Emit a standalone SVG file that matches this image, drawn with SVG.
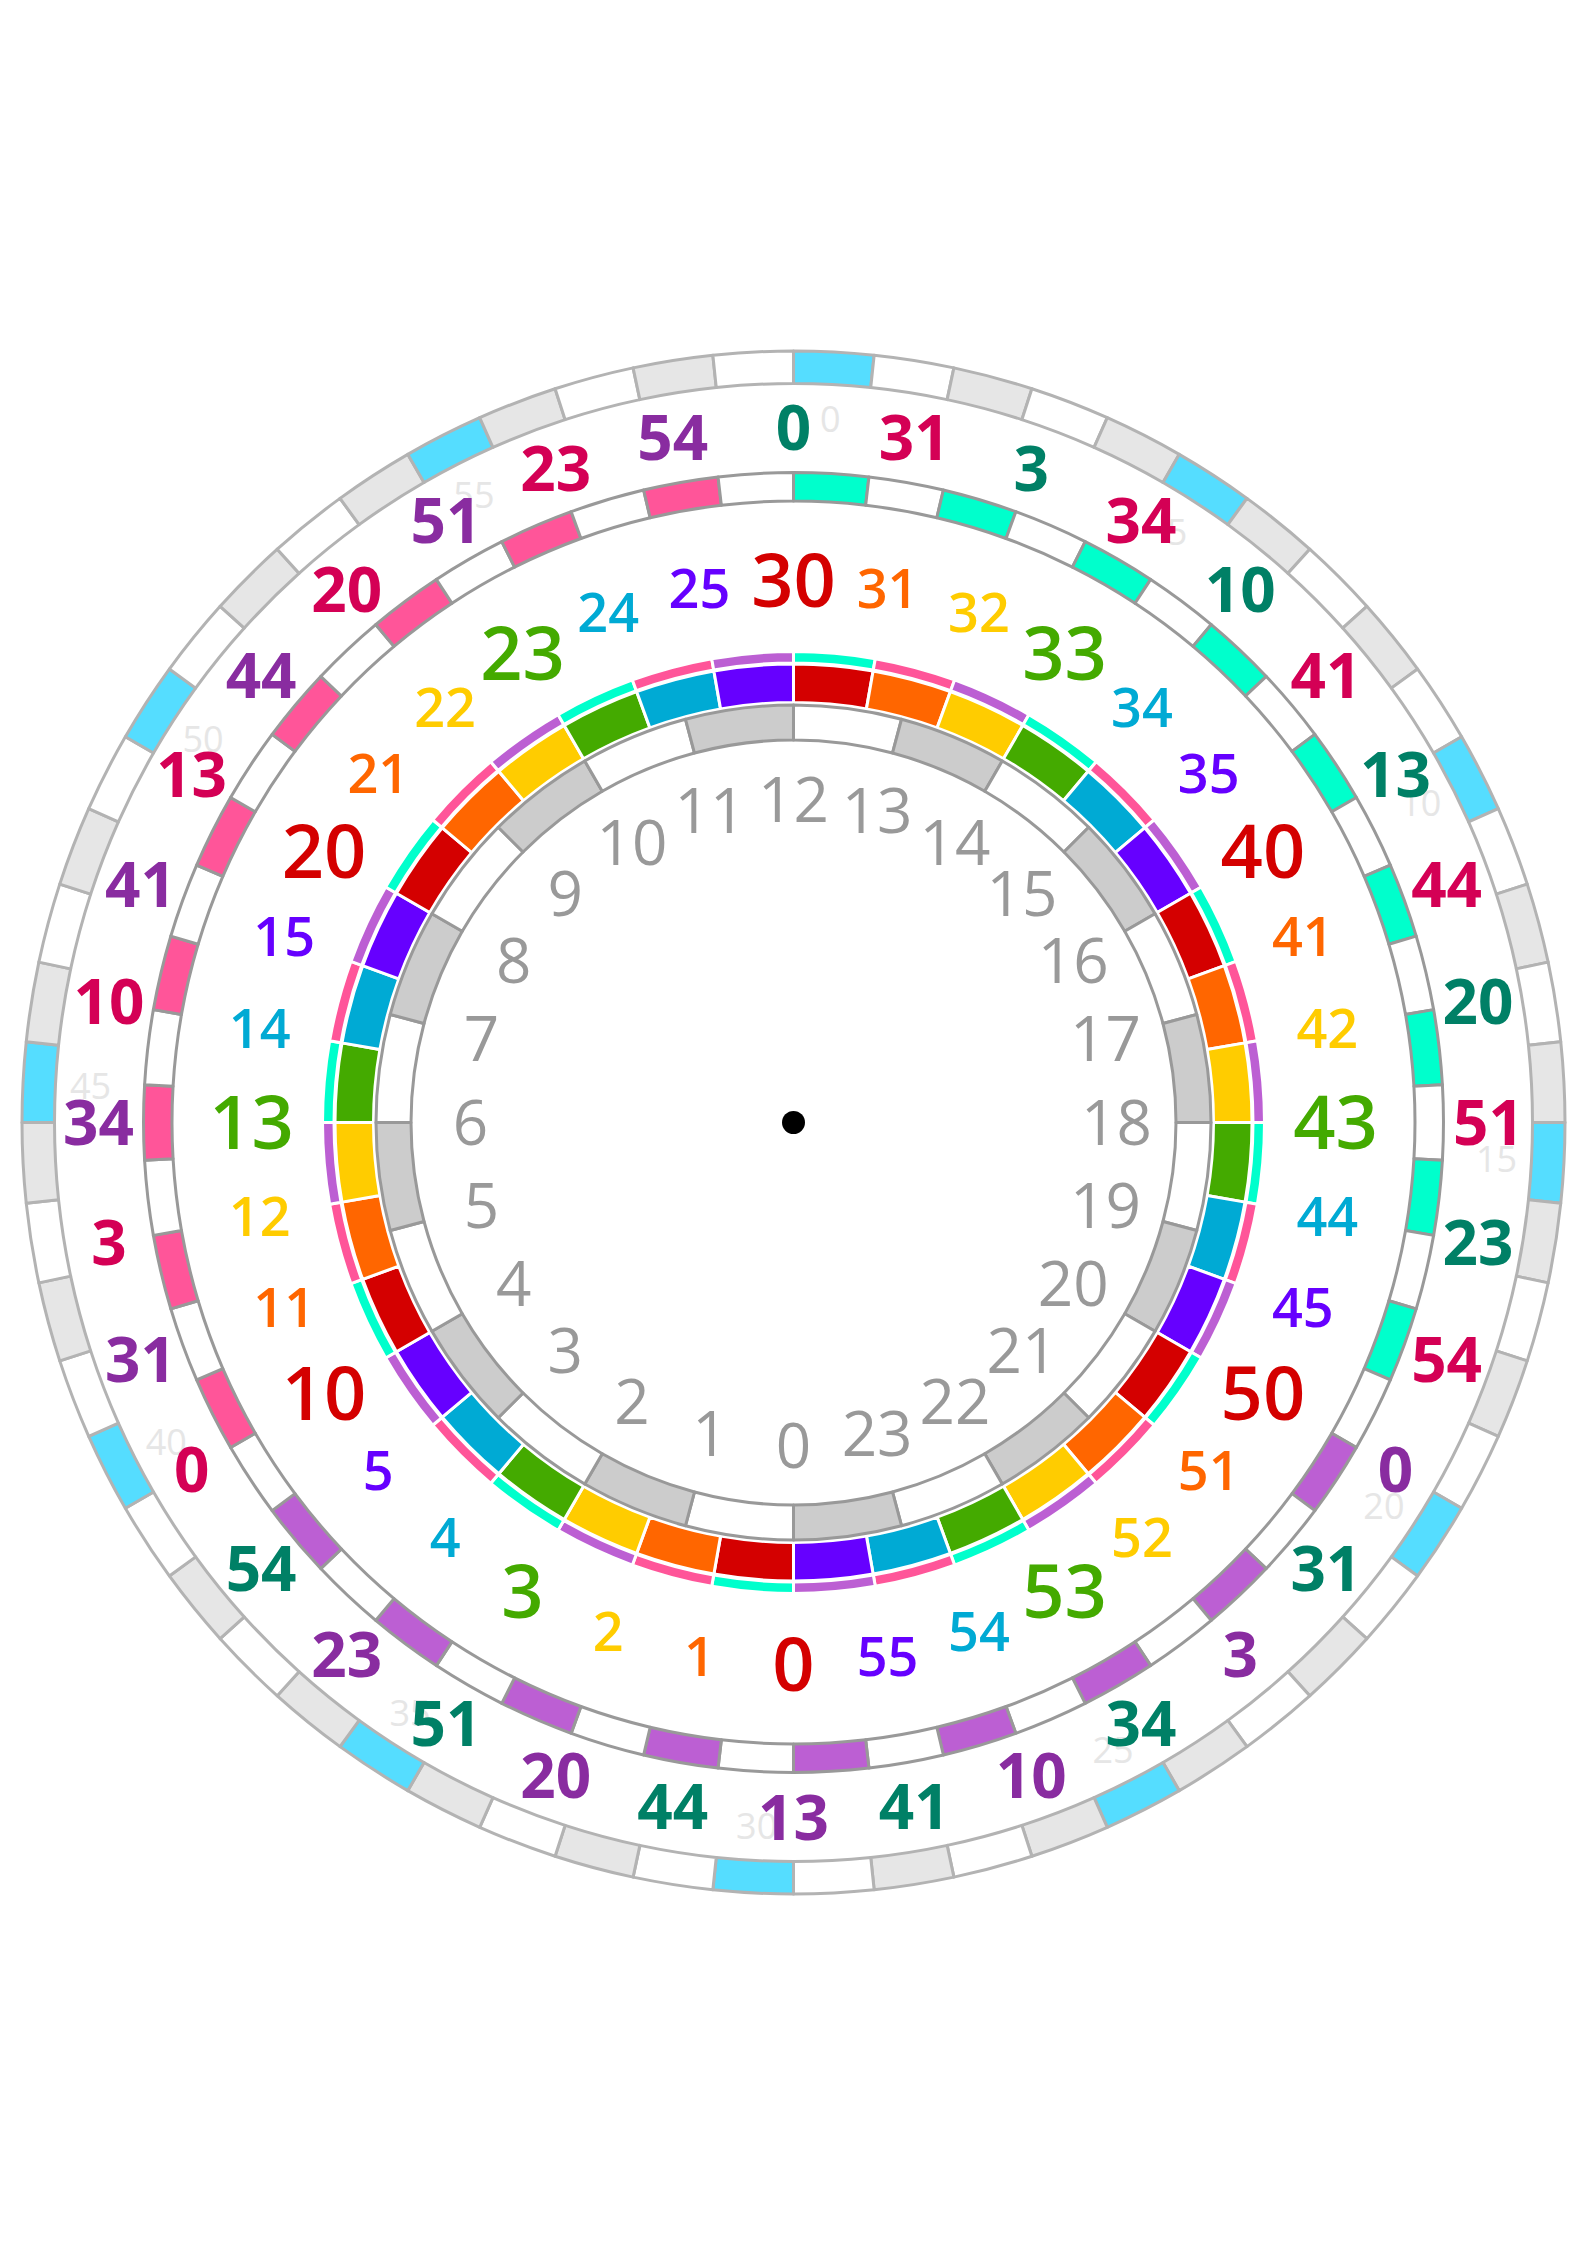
<svg xmlns="http://www.w3.org/2000/svg" width="1587" height="2245" viewBox="0 0 1587 2245">
<style>
.o{stroke:#b3b3b3;stroke-width:3;stroke-linejoin:round}
.m{stroke:#999999;stroke-width:3;stroke-linejoin:round}
.h{stroke:#999999;stroke-width:3;stroke-linejoin:round}
.c{stroke:#ffffff;stroke-width:3;stroke-linejoin:round}
.w{fill:#ffffff}
.lg{fill:#e6e6e6}
.sb{fill:#55ddff}
.gh{fill:#cccccc}
.R{fill:#d40000}.O{fill:#ff6600}.Y{fill:#ffcc00}.G{fill:#44aa00}.B{fill:#00aad4}.V{fill:#6600ff}
.T{fill:#00ffcc}.P{fill:#ff5599}.L{fill:#bc5fd3}
text{font-family:"Open Sans","Noto Sans","DejaVu Sans",sans-serif;text-anchor:middle}
.hl{font-size:62px;fill:#999999}
.gl{font-size:36px;fill:#e6e6e6}
.ml{font-size:54px;font-weight:600}
.mb{font-size:74px;font-weight:600}
.ol{font-size:62px;font-weight:700}
.tg{fill:#008066}.tc{fill:#d40055}.tp{fill:#892ca0}
</style>
<defs>
<path id="so" class="o" d="M0,-771.5 A771.5,771.5 0 0 1 80.643,-767.274 L77.246,-734.952 A739,739 0 0 0 0,-739 Z"/>
<path id="sm" class="m" d="M0,-650 A650,650 0 0 1 75.460,-645.605 L72.152,-617.297 A621.5,621.5 0 0 0 0,-621.5 Z"/>
<path id="sc" class="c" d="M0,-458.5 A458.5,458.5 0 0 1 79.618,-451.534 L72.932,-413.619 A420,420 0 0 0 0,-420 Z"/>
<path id="st" class="c" d="M0,-471 A471,471 0 0 1 81.788,-463.845 L79.791,-452.519 A459.5,459.5 0 0 0 0,-459.5 Z"/>
<path id="sh" class="h" d="M0,-417.5 A417.5,417.5 0 0 1 108.057,-403.274 L98.998,-369.467 A382.5,382.5 0 0 0 0,-382.5 Z"/>
</defs>
<rect width="1587" height="2245" fill="#ffffff"/>
<g transform="translate(793.5 1122.5)">
<g id="outer-minute-ring">
<use href="#so" class="sb" transform="rotate(0)"/><use href="#so" class="w" transform="rotate(6)"/><use href="#so" class="lg" transform="rotate(12)"/><use href="#so" class="w" transform="rotate(18)"/><use href="#so" class="lg" transform="rotate(24)"/>
<use href="#so" class="sb" transform="rotate(30)"/><use href="#so" class="lg" transform="rotate(36)"/><use href="#so" class="w" transform="rotate(42)"/><use href="#so" class="lg" transform="rotate(48)"/><use href="#so" class="w" transform="rotate(54)"/>
<use href="#so" class="sb" transform="rotate(60)"/><use href="#so" class="w" transform="rotate(66)"/><use href="#so" class="lg" transform="rotate(72)"/><use href="#so" class="w" transform="rotate(78)"/><use href="#so" class="lg" transform="rotate(84)"/>
<use href="#so" class="sb" transform="rotate(90)"/><use href="#so" class="lg" transform="rotate(96)"/><use href="#so" class="w" transform="rotate(102)"/><use href="#so" class="lg" transform="rotate(108)"/><use href="#so" class="w" transform="rotate(114)"/>
<use href="#so" class="sb" transform="rotate(120)"/><use href="#so" class="w" transform="rotate(126)"/><use href="#so" class="lg" transform="rotate(132)"/><use href="#so" class="w" transform="rotate(138)"/><use href="#so" class="lg" transform="rotate(144)"/>
<use href="#so" class="sb" transform="rotate(150)"/><use href="#so" class="lg" transform="rotate(156)"/><use href="#so" class="w" transform="rotate(162)"/><use href="#so" class="lg" transform="rotate(168)"/><use href="#so" class="w" transform="rotate(174)"/>
<use href="#so" class="sb" transform="rotate(180)"/><use href="#so" class="w" transform="rotate(186)"/><use href="#so" class="lg" transform="rotate(192)"/><use href="#so" class="w" transform="rotate(198)"/><use href="#so" class="lg" transform="rotate(204)"/>
<use href="#so" class="sb" transform="rotate(210)"/><use href="#so" class="lg" transform="rotate(216)"/><use href="#so" class="w" transform="rotate(222)"/><use href="#so" class="lg" transform="rotate(228)"/><use href="#so" class="w" transform="rotate(234)"/>
<use href="#so" class="sb" transform="rotate(240)"/><use href="#so" class="w" transform="rotate(246)"/><use href="#so" class="lg" transform="rotate(252)"/><use href="#so" class="w" transform="rotate(258)"/><use href="#so" class="lg" transform="rotate(264)"/>
<use href="#so" class="sb" transform="rotate(270)"/><use href="#so" class="lg" transform="rotate(276)"/><use href="#so" class="w" transform="rotate(282)"/><use href="#so" class="lg" transform="rotate(288)"/><use href="#so" class="w" transform="rotate(294)"/>
<use href="#so" class="sb" transform="rotate(300)"/><use href="#so" class="w" transform="rotate(306)"/><use href="#so" class="lg" transform="rotate(312)"/><use href="#so" class="w" transform="rotate(318)"/><use href="#so" class="lg" transform="rotate(324)"/>
<use href="#so" class="sb" transform="rotate(330)"/><use href="#so" class="lg" transform="rotate(336)"/><use href="#so" class="w" transform="rotate(342)"/><use href="#so" class="lg" transform="rotate(348)"/><use href="#so" class="w" transform="rotate(354)"/>
</g>
<g id="middle-ring">
<use href="#sm" class="T" transform="rotate(0)"/><use href="#sm" class="w" transform="rotate(6.6667)"/><use href="#sm" class="T" transform="rotate(13.3333)"/><use href="#sm" class="w" transform="rotate(20)"/><use href="#sm" class="T" transform="rotate(26.6667)"/><use href="#sm" class="w" transform="rotate(33.3333)"/>
<use href="#sm" class="T" transform="rotate(40)"/><use href="#sm" class="w" transform="rotate(46.6667)"/><use href="#sm" class="T" transform="rotate(53.3333)"/><use href="#sm" class="w" transform="rotate(60)"/><use href="#sm" class="T" transform="rotate(66.6667)"/><use href="#sm" class="w" transform="rotate(73.3333)"/>
<use href="#sm" class="T" transform="rotate(80)"/><use href="#sm" class="w" transform="rotate(86.6667)"/><use href="#sm" class="T" transform="rotate(93.3333)"/><use href="#sm" class="w" transform="rotate(100)"/><use href="#sm" class="T" transform="rotate(106.6667)"/><use href="#sm" class="w" transform="rotate(113.3333)"/>
<use href="#sm" class="L" transform="rotate(120)"/><use href="#sm" class="w" transform="rotate(126.6667)"/><use href="#sm" class="L" transform="rotate(133.3333)"/><use href="#sm" class="w" transform="rotate(140)"/><use href="#sm" class="L" transform="rotate(146.6667)"/><use href="#sm" class="w" transform="rotate(153.3333)"/>
<use href="#sm" class="L" transform="rotate(160)"/><use href="#sm" class="w" transform="rotate(166.6667)"/><use href="#sm" class="L" transform="rotate(173.3333)"/><use href="#sm" class="w" transform="rotate(180)"/><use href="#sm" class="L" transform="rotate(186.6667)"/><use href="#sm" class="w" transform="rotate(193.3333)"/>
<use href="#sm" class="L" transform="rotate(200)"/><use href="#sm" class="w" transform="rotate(206.6667)"/><use href="#sm" class="L" transform="rotate(213.3333)"/><use href="#sm" class="w" transform="rotate(220)"/><use href="#sm" class="L" transform="rotate(226.6667)"/><use href="#sm" class="w" transform="rotate(233.3333)"/>
<use href="#sm" class="P" transform="rotate(240)"/><use href="#sm" class="w" transform="rotate(246.6667)"/><use href="#sm" class="P" transform="rotate(253.3333)"/><use href="#sm" class="w" transform="rotate(260)"/><use href="#sm" class="P" transform="rotate(266.6667)"/><use href="#sm" class="w" transform="rotate(273.3333)"/>
<use href="#sm" class="P" transform="rotate(280)"/><use href="#sm" class="w" transform="rotate(286.6667)"/><use href="#sm" class="P" transform="rotate(293.3333)"/><use href="#sm" class="w" transform="rotate(300)"/><use href="#sm" class="P" transform="rotate(306.6667)"/><use href="#sm" class="w" transform="rotate(313.3333)"/>
<use href="#sm" class="P" transform="rotate(320)"/><use href="#sm" class="w" transform="rotate(326.6667)"/><use href="#sm" class="P" transform="rotate(333.3333)"/><use href="#sm" class="w" transform="rotate(340)"/><use href="#sm" class="P" transform="rotate(346.6667)"/><use href="#sm" class="w" transform="rotate(353.3333)"/>
</g>
<g id="color-band">
<use href="#st" class="T" transform="rotate(0)"/><use href="#st" class="P" transform="rotate(10)"/><use href="#st" class="L" transform="rotate(20)"/><use href="#st" class="T" transform="rotate(30)"/><use href="#st" class="P" transform="rotate(40)"/><use href="#st" class="L" transform="rotate(50)"/>
<use href="#st" class="T" transform="rotate(60)"/><use href="#st" class="P" transform="rotate(70)"/><use href="#st" class="L" transform="rotate(80)"/><use href="#st" class="T" transform="rotate(90)"/><use href="#st" class="P" transform="rotate(100)"/><use href="#st" class="L" transform="rotate(110)"/>
<use href="#st" class="T" transform="rotate(120)"/><use href="#st" class="P" transform="rotate(130)"/><use href="#st" class="L" transform="rotate(140)"/><use href="#st" class="T" transform="rotate(150)"/><use href="#st" class="P" transform="rotate(160)"/><use href="#st" class="L" transform="rotate(170)"/>
<use href="#st" class="T" transform="rotate(180)"/><use href="#st" class="P" transform="rotate(190)"/><use href="#st" class="L" transform="rotate(200)"/><use href="#st" class="T" transform="rotate(210)"/><use href="#st" class="P" transform="rotate(220)"/><use href="#st" class="L" transform="rotate(230)"/>
<use href="#st" class="T" transform="rotate(240)"/><use href="#st" class="P" transform="rotate(250)"/><use href="#st" class="L" transform="rotate(260)"/><use href="#st" class="T" transform="rotate(270)"/><use href="#st" class="P" transform="rotate(280)"/><use href="#st" class="L" transform="rotate(290)"/>
<use href="#st" class="T" transform="rotate(300)"/><use href="#st" class="P" transform="rotate(310)"/><use href="#st" class="L" transform="rotate(320)"/><use href="#st" class="T" transform="rotate(330)"/><use href="#st" class="P" transform="rotate(340)"/><use href="#st" class="L" transform="rotate(350)"/>
</g>
<g id="minute-color-ring">
<use href="#sc" class="R" transform="rotate(0)"/><use href="#sc" class="O" transform="rotate(10)"/><use href="#sc" class="Y" transform="rotate(20)"/><use href="#sc" class="G" transform="rotate(30)"/><use href="#sc" class="B" transform="rotate(40)"/><use href="#sc" class="V" transform="rotate(50)"/>
<use href="#sc" class="R" transform="rotate(60)"/><use href="#sc" class="O" transform="rotate(70)"/><use href="#sc" class="Y" transform="rotate(80)"/><use href="#sc" class="G" transform="rotate(90)"/><use href="#sc" class="B" transform="rotate(100)"/><use href="#sc" class="V" transform="rotate(110)"/>
<use href="#sc" class="R" transform="rotate(120)"/><use href="#sc" class="O" transform="rotate(130)"/><use href="#sc" class="Y" transform="rotate(140)"/><use href="#sc" class="G" transform="rotate(150)"/><use href="#sc" class="B" transform="rotate(160)"/><use href="#sc" class="V" transform="rotate(170)"/>
<use href="#sc" class="R" transform="rotate(180)"/><use href="#sc" class="O" transform="rotate(190)"/><use href="#sc" class="Y" transform="rotate(200)"/><use href="#sc" class="G" transform="rotate(210)"/><use href="#sc" class="B" transform="rotate(220)"/><use href="#sc" class="V" transform="rotate(230)"/>
<use href="#sc" class="R" transform="rotate(240)"/><use href="#sc" class="O" transform="rotate(250)"/><use href="#sc" class="Y" transform="rotate(260)"/><use href="#sc" class="G" transform="rotate(270)"/><use href="#sc" class="B" transform="rotate(280)"/><use href="#sc" class="V" transform="rotate(290)"/>
<use href="#sc" class="R" transform="rotate(300)"/><use href="#sc" class="O" transform="rotate(310)"/><use href="#sc" class="Y" transform="rotate(320)"/><use href="#sc" class="G" transform="rotate(330)"/><use href="#sc" class="B" transform="rotate(340)"/><use href="#sc" class="V" transform="rotate(350)"/>
</g>
<g id="hour-ring">
<use href="#sh" class="w" transform="rotate(0)"/><use href="#sh" class="gh" transform="rotate(15)"/><use href="#sh" class="w" transform="rotate(30)"/><use href="#sh" class="gh" transform="rotate(45)"/><use href="#sh" class="w" transform="rotate(60)"/><use href="#sh" class="gh" transform="rotate(75)"/>
<use href="#sh" class="w" transform="rotate(90)"/><use href="#sh" class="gh" transform="rotate(105)"/><use href="#sh" class="w" transform="rotate(120)"/><use href="#sh" class="gh" transform="rotate(135)"/><use href="#sh" class="w" transform="rotate(150)"/><use href="#sh" class="gh" transform="rotate(165)"/>
<use href="#sh" class="w" transform="rotate(180)"/><use href="#sh" class="gh" transform="rotate(195)"/><use href="#sh" class="w" transform="rotate(210)"/><use href="#sh" class="gh" transform="rotate(225)"/><use href="#sh" class="w" transform="rotate(240)"/><use href="#sh" class="gh" transform="rotate(255)"/>
<use href="#sh" class="w" transform="rotate(270)"/><use href="#sh" class="gh" transform="rotate(285)"/><use href="#sh" class="w" transform="rotate(300)"/><use href="#sh" class="gh" transform="rotate(315)"/><use href="#sh" class="w" transform="rotate(330)"/><use href="#sh" class="gh" transform="rotate(345)"/>
</g>
<g id="faint-minute-labels" class="gl">
<text class="gl" transform="rotate(3) translate(0,-704) rotate(-3)" y="13">0</text>
<text class="gl" transform="rotate(33) translate(0,-704) rotate(-33)" y="13">5</text>
<text class="gl" transform="rotate(63) translate(0,-704) rotate(-63)" y="13">10</text>
<text class="gl" transform="rotate(93) translate(0,-704) rotate(-93)" y="13">15</text>
<text class="gl" transform="rotate(123) translate(0,-704) rotate(-123)" y="13">20</text>
<text class="gl" transform="rotate(153) translate(0,-704) rotate(-153)" y="13">25</text>
<text class="gl" transform="rotate(183) translate(0,-704) rotate(-183)" y="13">30</text>
<text class="gl" transform="rotate(213) translate(0,-704) rotate(-213)" y="13">35</text>
<text class="gl" transform="rotate(243) translate(0,-704) rotate(-243)" y="13">40</text>
<text class="gl" transform="rotate(273) translate(0,-704) rotate(-273)" y="13">45</text>
<text class="gl" transform="rotate(303) translate(0,-704) rotate(-303)" y="13">50</text>
<text class="gl" transform="rotate(333) translate(0,-704) rotate(-333)" y="13">55</text>
</g>
<g id="outer-labels">
<text class="ol tg" transform="rotate(0) translate(0,-695) rotate(0)" y="22">0</text>
<text class="ol tc" transform="rotate(10) translate(0,-695) rotate(-10)" y="22">31</text>
<text class="ol tg" transform="rotate(20) translate(0,-695) rotate(-20)" y="22">3</text>
<text class="ol tc" transform="rotate(30) translate(0,-695) rotate(-30)" y="22">34</text>
<text class="ol tg" transform="rotate(40) translate(0,-695) rotate(-40)" y="22">10</text>
<text class="ol tc" transform="rotate(50) translate(0,-695) rotate(-50)" y="22">41</text>
<text class="ol tg" transform="rotate(60) translate(0,-695) rotate(-60)" y="22">13</text>
<text class="ol tc" transform="rotate(70) translate(0,-695) rotate(-70)" y="22">44</text>
<text class="ol tg" transform="rotate(80) translate(0,-695) rotate(-80)" y="22">20</text>
<text class="ol tc" transform="rotate(90) translate(0,-695) rotate(-90)" y="22">51</text>
<text class="ol tg" transform="rotate(100) translate(0,-695) rotate(-100)" y="22">23</text>
<text class="ol tc" transform="rotate(110) translate(0,-695) rotate(-110)" y="22">54</text>
<text class="ol tp" transform="rotate(120) translate(0,-695) rotate(-120)" y="22">0</text>
<text class="ol tg" transform="rotate(130) translate(0,-695) rotate(-130)" y="22">31</text>
<text class="ol tp" transform="rotate(140) translate(0,-695) rotate(-140)" y="22">3</text>
<text class="ol tg" transform="rotate(150) translate(0,-695) rotate(-150)" y="22">34</text>
<text class="ol tp" transform="rotate(160) translate(0,-695) rotate(-160)" y="22">10</text>
<text class="ol tg" transform="rotate(170) translate(0,-695) rotate(-170)" y="22">41</text>
<text class="ol tp" transform="rotate(180) translate(0,-695) rotate(-180)" y="22">13</text>
<text class="ol tg" transform="rotate(190) translate(0,-695) rotate(-190)" y="22">44</text>
<text class="ol tp" transform="rotate(200) translate(0,-695) rotate(-200)" y="22">20</text>
<text class="ol tg" transform="rotate(210) translate(0,-695) rotate(-210)" y="22">51</text>
<text class="ol tp" transform="rotate(220) translate(0,-695) rotate(-220)" y="22">23</text>
<text class="ol tg" transform="rotate(230) translate(0,-695) rotate(-230)" y="22">54</text>
<text class="ol tc" transform="rotate(240) translate(0,-695) rotate(-240)" y="22">0</text>
<text class="ol tp" transform="rotate(250) translate(0,-695) rotate(-250)" y="22">31</text>
<text class="ol tc" transform="rotate(260) translate(0,-695) rotate(-260)" y="22">3</text>
<text class="ol tp" transform="rotate(270) translate(0,-695) rotate(-270)" y="22">34</text>
<text class="ol tc" transform="rotate(280) translate(0,-695) rotate(-280)" y="22">10</text>
<text class="ol tp" transform="rotate(290) translate(0,-695) rotate(-290)" y="22">41</text>
<text class="ol tc" transform="rotate(300) translate(0,-695) rotate(-300)" y="22">13</text>
<text class="ol tp" transform="rotate(310) translate(0,-695) rotate(-310)" y="22">44</text>
<text class="ol tc" transform="rotate(320) translate(0,-695) rotate(-320)" y="22">20</text>
<text class="ol tp" transform="rotate(330) translate(0,-695) rotate(-330)" y="22">51</text>
<text class="ol tc" transform="rotate(340) translate(0,-695) rotate(-340)" y="22">23</text>
<text class="ol tp" transform="rotate(350) translate(0,-695) rotate(-350)" y="22">54</text>
</g>
<g id="minute-labels">
<text class="mb R" transform="rotate(0) translate(0,-542) rotate(0)" y="26.4">30</text>
<text class="ml O" transform="rotate(10) translate(0,-542) rotate(-10)" y="19.3">31</text>
<text class="ml Y" transform="rotate(20) translate(0,-542) rotate(-20)" y="19.3">32</text>
<text class="mb G" transform="rotate(30) translate(0,-542) rotate(-30)" y="26.4">33</text>
<text class="ml B" transform="rotate(40) translate(0,-542) rotate(-40)" y="19.3">34</text>
<text class="ml V" transform="rotate(50) translate(0,-542) rotate(-50)" y="19.3">35</text>
<text class="mb R" transform="rotate(60) translate(0,-542) rotate(-60)" y="26.4">40</text>
<text class="ml O" transform="rotate(70) translate(0,-542) rotate(-70)" y="19.3">41</text>
<text class="ml Y" transform="rotate(80) translate(0,-542) rotate(-80)" y="19.3">42</text>
<text class="mb G" transform="rotate(90) translate(0,-542) rotate(-90)" y="26.4">43</text>
<text class="ml B" transform="rotate(100) translate(0,-542) rotate(-100)" y="19.3">44</text>
<text class="ml V" transform="rotate(110) translate(0,-542) rotate(-110)" y="19.3">45</text>
<text class="mb R" transform="rotate(120) translate(0,-542) rotate(-120)" y="26.4">50</text>
<text class="ml O" transform="rotate(130) translate(0,-542) rotate(-130)" y="19.3">51</text>
<text class="ml Y" transform="rotate(140) translate(0,-542) rotate(-140)" y="19.3">52</text>
<text class="mb G" transform="rotate(150) translate(0,-542) rotate(-150)" y="26.4">53</text>
<text class="ml B" transform="rotate(160) translate(0,-542) rotate(-160)" y="19.3">54</text>
<text class="ml V" transform="rotate(170) translate(0,-542) rotate(-170)" y="19.3">55</text>
<text class="mb R" transform="rotate(180) translate(0,-542) rotate(-180)" y="26.4">0</text>
<text class="ml O" transform="rotate(190) translate(0,-542) rotate(-190)" y="19.3">1</text>
<text class="ml Y" transform="rotate(200) translate(0,-542) rotate(-200)" y="19.3">2</text>
<text class="mb G" transform="rotate(210) translate(0,-542) rotate(-210)" y="26.4">3</text>
<text class="ml B" transform="rotate(220) translate(0,-542) rotate(-220)" y="19.3">4</text>
<text class="ml V" transform="rotate(230) translate(0,-542) rotate(-230)" y="19.3">5</text>
<text class="mb R" transform="rotate(240) translate(0,-542) rotate(-240)" y="26.4">10</text>
<text class="ml O" transform="rotate(250) translate(0,-542) rotate(-250)" y="19.3">11</text>
<text class="ml Y" transform="rotate(260) translate(0,-542) rotate(-260)" y="19.3">12</text>
<text class="mb G" transform="rotate(270) translate(0,-542) rotate(-270)" y="26.4">13</text>
<text class="ml B" transform="rotate(280) translate(0,-542) rotate(-280)" y="19.3">14</text>
<text class="ml V" transform="rotate(290) translate(0,-542) rotate(-290)" y="19.3">15</text>
<text class="mb R" transform="rotate(300) translate(0,-542) rotate(-300)" y="26.4">20</text>
<text class="ml O" transform="rotate(310) translate(0,-542) rotate(-310)" y="19.3">21</text>
<text class="ml Y" transform="rotate(320) translate(0,-542) rotate(-320)" y="19.3">22</text>
<text class="mb G" transform="rotate(330) translate(0,-542) rotate(-330)" y="26.4">23</text>
<text class="ml B" transform="rotate(340) translate(0,-542) rotate(-340)" y="19.3">24</text>
<text class="ml V" transform="rotate(350) translate(0,-542) rotate(-350)" y="19.3">25</text>
</g>
<g id="hour-labels">
<text class="hl" transform="rotate(180) translate(0,-323) rotate(-180)" y="22">0</text>
<text class="hl" transform="rotate(195) translate(0,-323) rotate(-195)" y="22">1</text>
<text class="hl" transform="rotate(210) translate(0,-323) rotate(-210)" y="22">2</text>
<text class="hl" transform="rotate(225) translate(0,-323) rotate(-225)" y="22">3</text>
<text class="hl" transform="rotate(240) translate(0,-323) rotate(-240)" y="22">4</text>
<text class="hl" transform="rotate(255) translate(0,-323) rotate(-255)" y="22">5</text>
<text class="hl" transform="rotate(270) translate(0,-323) rotate(-270)" y="22">6</text>
<text class="hl" transform="rotate(285) translate(0,-323) rotate(-285)" y="22">7</text>
<text class="hl" transform="rotate(300) translate(0,-323) rotate(-300)" y="22">8</text>
<text class="hl" transform="rotate(315) translate(0,-323) rotate(-315)" y="22">9</text>
<text class="hl" transform="rotate(330) translate(0,-323) rotate(-330)" y="22">10</text>
<text class="hl" transform="rotate(345) translate(0,-323) rotate(-345)" y="22">11</text>
<text class="hl" transform="rotate(0) translate(0,-323) rotate(0)" y="22">12</text>
<text class="hl" transform="rotate(15) translate(0,-323) rotate(-15)" y="22">13</text>
<text class="hl" transform="rotate(30) translate(0,-323) rotate(-30)" y="22">14</text>
<text class="hl" transform="rotate(45) translate(0,-323) rotate(-45)" y="22">15</text>
<text class="hl" transform="rotate(60) translate(0,-323) rotate(-60)" y="22">16</text>
<text class="hl" transform="rotate(75) translate(0,-323) rotate(-75)" y="22">17</text>
<text class="hl" transform="rotate(90) translate(0,-323) rotate(-90)" y="22">18</text>
<text class="hl" transform="rotate(105) translate(0,-323) rotate(-105)" y="22">19</text>
<text class="hl" transform="rotate(120) translate(0,-323) rotate(-120)" y="22">20</text>
<text class="hl" transform="rotate(135) translate(0,-323) rotate(-135)" y="22">21</text>
<text class="hl" transform="rotate(150) translate(0,-323) rotate(-150)" y="22">22</text>
<text class="hl" transform="rotate(165) translate(0,-323) rotate(-165)" y="22">23</text>
</g>
<circle id="center-dot" cx="0" cy="0" r="11.5" fill="#000000"/>
</g>
</svg>
